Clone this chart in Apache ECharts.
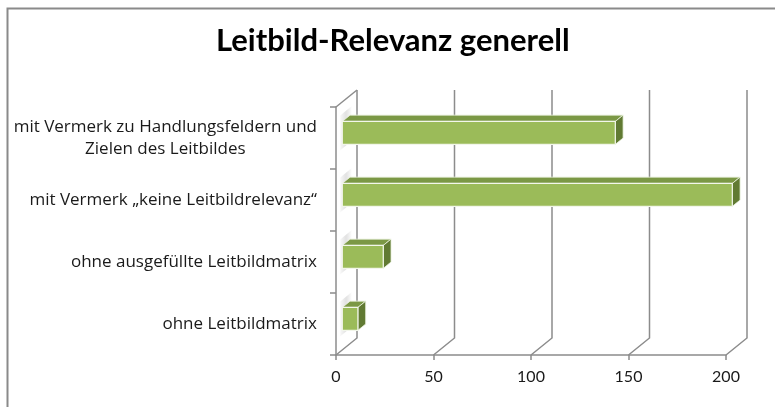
<!DOCTYPE html>
<html>
<head>
<meta charset="utf-8">
<script src="https://cdn.jsdelivr.net/npm/echarts@6/dist/echarts.min.js"></script>
<style>
  html, body { margin: 0; padding: 0; background: #fff; }
  #main { width: 775px; height: 407px; }
</style>
</head>
<body>
<div id="main"></div>
<script>
var categories = [
  'mit Vermerk zu Handlungsfeldern und\nZielen des Leitbildes',
  'mit Vermerk „keine Leitbildrelevanz“',
  'ohne ausgefüllte Leitbildmatrix',
  'ohne Leitbildmatrix'
]
var values = [140, 200, 21, 8]
var tickValues = [0, 50, 100, 150, 200]

// fake 3d: depth offset of the back wall, and where the bars sit in depth
var DX = 21
var DY = -17
var F0 = 0.3
var F1 = 0.67
var FONT = 'Lato'
var LABEL_FONT = 'Open Sans'

function renderFrame(params, api) {
  var cs = params.coordSys
  var x = api.coord([api.value(0), 0])[0]
  var top = cs.y
  var bottom = cs.y + cs.height
  var lineStyle = { stroke: '#8c8c8c', lineWidth: 1.5, fill: null }
  var children = [{
    type: 'polyline',
    shape: { points: [[x, bottom], [x + DX, bottom + DY], [x + DX, top + DY]] },
    style: lineStyle
  }]
  if (params.dataIndex === 0) {
    children.push({
      type: 'line',
      shape: { x1: x, y1: top, x2: x + DX, y2: top + DY },
      style: lineStyle
    })
  }
  return { type: 'group', children: children }
}

function renderBar(params, api) {
  var c = api.value(1)
  var p0 = api.coord([0, c])
  var p1 = api.coord([api.value(0), c])
  var h = api.size([0, 1])[1] * 0.37
  var xl = p0[0] + DX * F0
  var xr = p1[0] + DX * F0
  var yt = p0[1] + DY * F0 - h / 2
  var yb = yt + h
  var dx = DX * (F1 - F0)
  var dy = DY * (F1 - F0)
  var x0 = p0[0]
  return {
    type: 'group',
    children: [
      { // shadow on the left wall
        type: 'polygon',
        shape: { points: [[x0 + DX * 0.2, yt - 6], [x0 + DX * 0.75, yt - 6 + DY * 0.55], [x0 + DX * 0.75, yb + 6 + DY * 0.55], [x0 + DX * 0.2, yb + 6]] },
        style: {
          fill: new echarts.graphic.LinearGradient(0, 0, 1, 0, [
            { offset: 0, color: 'rgba(120,120,120,0.05)' },
            { offset: 0.5, color: 'rgba(120,120,120,0.22)' },
            { offset: 1, color: 'rgba(120,120,120,0.02)' }
          ])
        }
      },
      {
        type: 'polygon',
        shape: { points: [[xl, yt], [xr, yt], [xr + dx, yt + dy], [xl + dx, yt + dy]] },
        style: { fill: '#7b9845', stroke: '#e9f0dc', lineWidth: 0.8 }
      },
      {
        type: 'polygon',
        shape: { points: [[xr, yt], [xr + dx, yt + dy], [xr + dx, yb + dy], [xr, yb]] },
        style: { fill: '#617a33', stroke: '#e9f0dc', lineWidth: 0.8 }
      },
      {
        type: 'rect',
        shape: { x: xl, y: yt, width: xr - xl, height: h },
        style: { fill: '#9bbb59', stroke: '#f2f6ea', lineWidth: 1.2 }
      }
    ]
  }
}

var chart = echarts.init(document.getElementById('main'))
chart.setOption({
  animation: false,
  textStyle: { fontFamily: FONT },
  title: {
    text: 'Leitbild-Relevanz generell',
    left: 216,
    top: 25,
    padding: 0,
    textStyle: { fontFamily: FONT, fontSize: 31, fontWeight: 'bold', color: '#000' }
  },
  graphic: [{
    type: 'polyline',
    shape: { points: [[7.5, 407], [7.5, 8.5], [775, 8.5]] },
    style: { stroke: '#8a8a8a', lineWidth: 2, fill: null }
  }],
  grid: { left: 336, right: 49, top: 107, bottom: 52 },
  xAxis: {
    type: 'value',
    min: 0,
    max: 200,
    interval: 50,
    axisLine: { show: true, lineStyle: { color: '#8c8c8c', width: 1.5 } },
    axisTick: { show: true, length: 5, lineStyle: { color: '#8c8c8c', width: 1.5 } },
    splitLine: { show: false },
    axisLabel: { fontFamily: FONT, fontSize: 16, color: '#1a1a1a', margin: 14 }
  },
  yAxis: {
    type: 'category',
    data: categories,
    inverse: true,
    axisLine: { show: true, lineStyle: { color: '#8c8c8c', width: 1.5 } },
    axisTick: { show: true, length: 6, lineStyle: { color: '#8c8c8c', width: 1.5 } },
    axisLabel: {
      fontFamily: LABEL_FONT,
      fontSize: 17,
      color: '#1a1a1a',
      margin: 19,
      lineHeight: 22,
      formatter: function (val) {
        return val.split('\n').map(function (s) { return '{c|' + s + '}' }).join('\n')
      },
      rich: { c: { align: 'center', fontFamily: LABEL_FONT, fontSize: 17, lineHeight: 22, color: '#1a1a1a' } }
    }
  },
  series: [
    {
      type: 'custom',
      renderItem: renderFrame,
      data: tickValues.map(function (t) { return [t, 0] }),
      encode: { x: 0, y: 1 },
      silent: true,
      z: 1
    },
    {
      type: 'custom',
      renderItem: renderBar,
      data: values.map(function (v, i) { return [v, i] }),
      encode: { x: 0, y: 1 },
      z: 2
    }
  ]
})
</script>
</body>
</html>
